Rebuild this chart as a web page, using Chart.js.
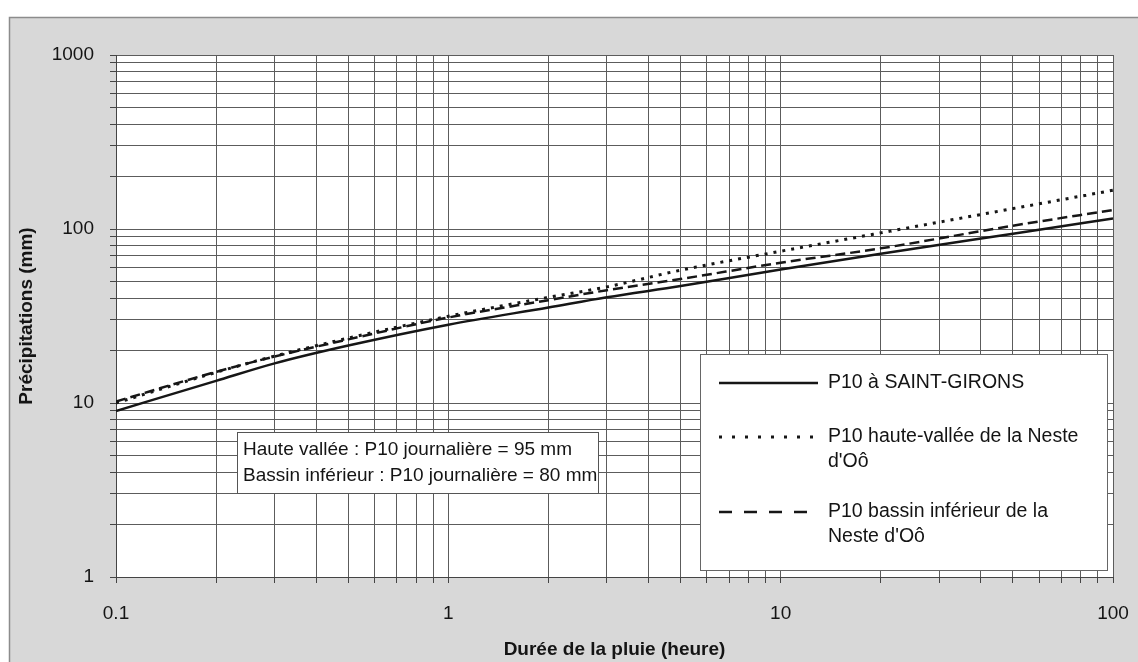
<!DOCTYPE html>
<html><head><meta charset="utf-8">
<script src="https://cdn.jsdelivr.net/npm/chart.js@4.4.0/dist/chart.umd.min.js"></script>
<style>html,body{margin:0;padding:0;background:#fff;}canvas{display:block;}</style>
</head><body>
<canvas id="c" width="1138" height="662"></canvas>
<script>
// ---- data ----
const durations = [0.1, 0.2, 0.3, 0.5, 1, 2, 3, 5, 10, 20, 50, 100];
const saintGirons = [9.0, 13.4, 16.9, 21.4, 28.2, 35.4, 40.5, 47.0, 58.5, 72.0, 94.0, 115.0];
const hauteVallee = [10.0, 15.0, 18.6, 23.6, 31.5, 40.5, 46.5, 58.0, 74.5, 95.0, 131.0, 167.0];
const bassinInferieur = [10.2, 15.1, 18.5, 23.2, 31.0, 39.0, 44.5, 51.6, 64.0, 77.4, 104.5, 128.5];
const seriesLabels = [
  ['P10 à SAINT-GIRONS'],
  ['P10 haute-vallée de la Neste', "d'Oô"],
  ['P10 bassin inférieur de la', "Neste d'Oô"]
];
const xTickLabels = ['0.1', '1', '10', '100'];
const yTickLabels = ['1', '10', '100', '1000'];
const noteLines = ['Haute vallée : P10 journalière = 95 mm', 'Bassin inférieur : P10 journalière = 80 mm'];
const xTitle = 'Durée de la pluie (heure)';
const yTitle = 'Précipitations (mm)';

// ---- helpers ----
const FONT = "'Liberation Sans', Arial, sans-serif";
const TXT = '#141414';
function logTicks(labels) {
  const vals = [];
  const nums = labels.map(parseFloat);
  for (let i = 0; i < nums.length - 1; i++) {
    for (let m = 1; m <= 9; m++) vals.push(parseFloat((nums[i] * m).toPrecision(6)));
  }
  vals.push(nums[nums.length - 1]);
  return vals;
}
function labelFor(labels) {
  return (v) => {
    const hit = labels.find(l => Math.abs(parseFloat(l) - v) < 1e-9 * Math.max(1, v));
    return hit === undefined ? '' : hit;
  };
}
const toPoints = (ys) => durations.map((x, i) => ({x, y: ys[i]}));

const styles = [
  {borderDash: [], legendDash: [], width: 2.5},
  {borderDash: [3, 6], legendDash: [3, 10], width: 3},
  {borderDash: [10, 5], legendDash: [13, 12], width: 2.5}
];

const decor = {
  id: 'decor',
  beforeDraw(chart) {
    const ctx = chart.ctx, W = chart.width, H = chart.height, a = chart.chartArea;
    ctx.save();
    ctx.fillStyle = '#ffffff';
    ctx.fillRect(0, 0, W, H);
    ctx.fillStyle = '#d8d8d8';
    ctx.fillRect(9, 17, W, H);
    ctx.strokeStyle = '#8c8c8c';
    ctx.lineWidth = 1.5;
    ctx.strokeRect(9.5, 17.5, W + 20, H + 20);
    ctx.fillStyle = '#ffffff';
    ctx.fillRect(a.left, a.top, a.right - a.left, a.bottom - a.top);
    ctx.restore();
  },
  afterDatasetsDraw(chart) {
    const ctx = chart.ctx;
    ctx.save();
    // note box
    ctx.fillStyle = '#ffffff';
    ctx.fillRect(237, 432, 361, 61);
    ctx.strokeStyle = '#555';
    ctx.lineWidth = 1;
    ctx.strokeRect(237.5, 432.5, 361, 61);
    ctx.fillStyle = TXT;
    ctx.font = '19px ' + FONT;
    ctx.textBaseline = 'middle';
    ctx.textAlign = 'left';
    noteLines.forEach((t, i) => ctx.fillText(t, 243, 450 + i * 26));
    // legend box
    ctx.fillStyle = '#ffffff';
    ctx.fillRect(700, 354, 407, 216);
    ctx.strokeStyle = '#666';
    ctx.strokeRect(700.5, 354.5, 407, 216);
    const rowY = [383, 437, 512];
    chart.data.datasets.forEach((ds, i) => {
      const y = rowY[i];
      ctx.beginPath();
      ctx.setLineDash(styles[i].legendDash);
      ctx.lineWidth = styles[i].width;
      ctx.strokeStyle = ds.borderColor;
      ctx.moveTo(719, y);
      ctx.lineTo(818, y);
      ctx.stroke();
      ctx.setLineDash([]);
      ctx.fillStyle = TXT;
      ctx.font = '19.5px ' + FONT;
      seriesLabels[i].forEach((t, k) => ctx.fillText(t, 828, y + k * 25));
    });
    ctx.restore();
  }
};

const ds = [saintGirons, hauteVallee, bassinInferieur].map((ys, i) => ({
  label: seriesLabels[i].join(' '),
  data: toPoints(ys),
  borderColor: '#161616',
  borderWidth: styles[i].width,
  borderDash: styles[i].borderDash,
  pointRadius: 0,
  fill: false,
  cubicInterpolationMode: 'monotone'
}));

const gridOpts = {color: '#5c5c5c', lineWidth: 1, tickLength: 6, drawTicks: true, tickColor: '#444'};

new Chart(document.getElementById('c'), {
  type: 'line',
  data: {datasets: ds},
  plugins: [decor],
  options: {
    responsive: false,
    animation: false,
    devicePixelRatio: 1,
    layout: {padding: {left: 0, top: 55, right: 25, bottom: 0}},
    plugins: {legend: {display: false}, tooltip: {enabled: false}},
    scales: {
      x: {
        type: 'logarithmic',
        min: parseFloat(xTickLabels[0]),
        max: parseFloat(xTickLabels[xTickLabels.length - 1]),
        afterBuildTicks: (s) => { s.ticks = logTicks(xTickLabels).map(v => ({value: v})); },
        afterFit: (s) => { s.height = 85; s.paddingLeft = 0; s.paddingRight = 0; },
        grid: gridOpts,
        border: {color: '#444', width: 1},
        ticks: {autoSkip: false, maxRotation: 0, padding: 19, color: TXT,
          font: {family: FONT, size: 19}, callback: labelFor(xTickLabels)},
        title: {display: true, text: xTitle, color: TXT,
          font: {family: FONT, size: 19, weight: 'bold'}, padding: {top: 0, bottom: 1}}
      },
      y: {
        type: 'logarithmic',
        min: parseFloat(yTickLabels[0]),
        max: parseFloat(yTickLabels[yTickLabels.length - 1]),
        afterBuildTicks: (s) => { s.ticks = logTicks(yTickLabels).map(v => ({value: v})); },
        afterFit: (s) => { s.width = 116; s.paddingTop = 0; s.paddingBottom = 0; },
        grid: gridOpts,
        border: {color: '#444', width: 1},
        ticks: {autoSkip: false, padding: 16, color: TXT,
          font: {family: FONT, size: 19}, callback: labelFor(yTickLabels)},
        title: {display: true, text: yTitle, color: TXT,
          font: {family: FONT, size: 19, weight: 'bold'}, padding: {top: 15, bottom: 0}}
      }
    }
  }
});
</script>
</body></html>
